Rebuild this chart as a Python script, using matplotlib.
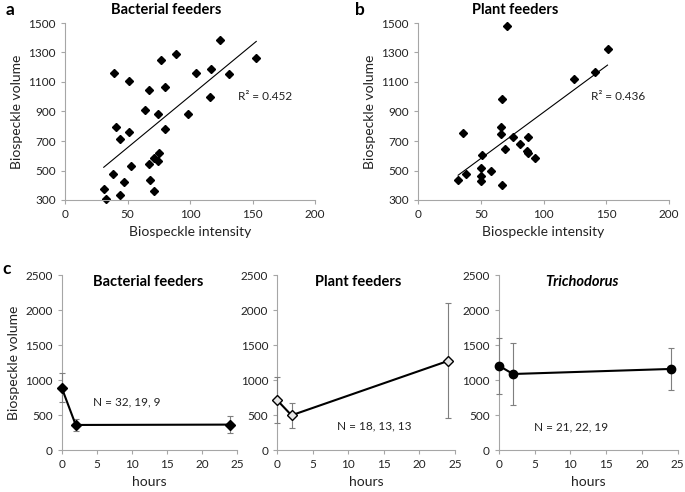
import numpy as np
import matplotlib
matplotlib.use("Agg")
import matplotlib.pyplot as plt

plt.rcParams.update({
    "font.family": ["Lato", "DejaVu Sans"],
    "font.size": 8,
    "axes.edgecolor": "#a6a6a6",
    "axes.linewidth": 0.8,
    "xtick.color": "#a6a6a6",
    "ytick.color": "#a6a6a6",
    "xtick.labelcolor": "#222222",
    "ytick.labelcolor": "#222222",
    "xtick.labelsize": 8.5,
    "ytick.labelsize": 8.5,
    "xtick.major.size": 3,
    "ytick.major.size": 3,
})

# ---- panel a: bacterial feeders ----
bact_int = [31, 33, 38, 39, 41, 44, 44, 47, 51, 51, 53, 64, 67, 67, 68, 71,
            71, 74, 74, 75, 77, 80, 80, 89, 98, 105, 116, 117, 124, 131, 153]
bact_vol = [375, 307, 479, 1162, 798, 716, 332, 422, 1105, 759, 532, 909,
            1046, 542, 435, 360, 586, 886, 565, 619, 1246, 1064, 779, 1293,
            886, 1162, 1001, 1189, 1382, 1155, 1264]
bact_r2 = 0.452

# ---- panel b: plant feeders ----
plant_int = [32, 36, 38, 50, 50, 50, 51, 58, 66, 66, 67, 67, 69, 71, 76, 81,
             88, 87, 88, 93, 124, 141, 151]
plant_vol = [434, 756, 476, 517, 465, 427, 603, 497, 797, 750, 985, 402, 644,
             1480, 725, 677, 727, 634, 616, 585, 1122, 1170, 1324]
plant_r2 = 0.436

# ---- panel c: time course (mean, lower err, upper err) ----
hours = [0, 2, 24]
c_titles = ["Bacterial feeders", "Plant feeders", "Trichodorus"]
c_mean = [[895, 362, 367], [714, 500, 1276], [1210, 1090, 1162]]
c_lo = [[694, 276, 243], [386, 314, 457], [805, 652, 862]]
c_hi = [[1100, 443, 490], [1052, 681, 2105], [1600, 1529, 1457]]
c_n = ["N = 32, 19, 9", "N = 18, 13, 13", "N = 21, 22, 19"]

W, H = 685, 492
fig = plt.figure(figsize=(W / 100, H / 100), dpi=100)


def px_axes(l, t, r, b):
    return fig.add_axes([l / W, 1 - b / H, (r - l) / W, (b - t) / H])


def clean(ax):
    ax.spines["top"].set_visible(False)
    ax.spines["right"].set_visible(False)


def scatter_panel(ax, x, y, r2, title, tx, ylabel=True):
    ax.plot(x, y, "D", color="black", ms=4.5, ls="none", clip_on=False)
    k, c = np.polyfit(x, y, 1)
    xf = np.array([min(x), max(x)])
    ax.plot(xf, k * xf + c, color="black", lw=0.8)
    ax.set_xlim(0, 200)
    ax.set_ylim(300, 1500)
    ax.set_xticks([0, 50, 100, 150, 200])
    ax.set_yticks(range(300, 1501, 200))
    ax.set_xlabel("Biospeckle intensity", fontsize=10, color="#222222")
    if ylabel:
        ax.set_ylabel("Biospeckle volume", fontsize=10, color="#222222")
    ax.text(tx, 1.075, title, transform=ax.transAxes, ha="center", va="center",
            fontsize=10.5, fontweight="bold")
    ax.text(0.69, 0.585, "R² = %.3f" % r2, transform=ax.transAxes,
            ha="left", va="center", fontsize=8.5, color="#222222")
    clean(ax)


ax_a = px_axes(65, 23, 315, 200)
scatter_panel(ax_a, bact_int, bact_vol, bact_r2, "Bacterial feeders", 0.404)
ax_b = px_axes(418, 23, 669, 200)
scatter_panel(ax_b, plant_int, plant_vol, plant_r2, "Plant feeders", 0.388)

fig.text(6 / W, 1 - 10 / H, "a", fontsize=12.5, fontweight="bold", va="center")
fig.text(355 / W, 1 - 10 / H, "b", fontsize=12.5, fontweight="bold", va="center")
fig.text(2 / W, 1 - 269 / H, "c", fontsize=12.5, fontweight="bold", va="center")

c_boxes = [(61.7, 237), (277.3, 455), (498.7, 677.7)]
c_title_x = [0.493, 0.454, 0.464]
c_n_pos = [(4.4, 694), (8.4, 351), (5.0, 337)]
markers = [dict(marker="D", ms=5, mfc="black", mec="black"),
           dict(marker="D", ms=5, mfc="#e6e6e6", mec="black"),
           dict(marker="o", ms=6, mfc="black", mec="black")]

for i in range(3):
    l, r = c_boxes[i]
    ax = px_axes(l, 275.3, r, 450.3)
    m = np.array(c_mean[i])
    err = [m - np.array(c_lo[i]), np.array(c_hi[i]) - m]
    eb = ax.errorbar(hours, m, yerr=err, fmt="none", ecolor="#7f7f7f",
                     elinewidth=0.8, capsize=2.5, capthick=0.8, zorder=2)
    for art in eb.lines[1] + eb.lines[2]:
        art.set_clip_on(False)
    ax.plot(hours, m, color="black", lw=1.5, zorder=3, clip_on=False,
            **markers[i])
    ax.set_xlim(0, 25)
    ax.set_ylim(0, 2500)
    ax.set_xticks(range(0, 26, 5))
    ax.set_yticks(range(0, 2501, 500))
    ax.set_xlabel("hours", fontsize=10, color="#222222")
    if i == 0:
        ax.set_ylabel("Biospeckle volume", fontsize=10, color="#222222")
    ax.text(c_title_x[i], 0.962, c_titles[i], transform=ax.transAxes,
            ha="center", va="center", fontsize=10.5,
            fontweight="bold", fontstyle="italic" if i == 2 else "normal")
    ax.text(c_n_pos[i][0], c_n_pos[i][1], c_n[i], ha="left", va="center",
            fontsize=8.5, color="#222222")
    clean(ax)
    for s in ax.spines.values():
        s.set_zorder(0.5)

fig.savefig("out.png", dpi=100)
